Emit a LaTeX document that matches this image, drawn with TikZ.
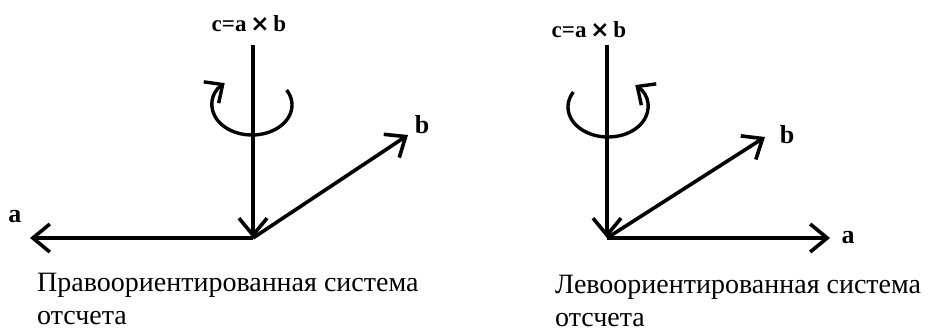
\documentclass[tikz,border=0pt]{standalone}
\usepackage{fontspec}
\setmainfont{Liberation Serif}
\newfontfamily\crossfont{DejaVu Sans}
\usetikzlibrary{arrows.meta,positioning}

\begin{document}
\begin{tikzpicture}[
  x=1pt,y=1pt,
  axis/.style ={line width=3.6pt,-{Straight Barb[length=17pt,width=28pt]}},
  turn/.style ={line width=3.4pt,-{Straight Barb[length=14pt,width=26pt]}},
  vlabel/.style={font=\fontsize{26}{26}\selectfont\bfseries,inner sep=0pt},
  prodlabel/.style={font=\fontsize{23}{23}\selectfont\bfseries,inner sep=0pt},
  caption/.style={font=\fontsize{28}{33}\selectfont,align=left,inner sep=0pt,
                  anchor=north west},
]
\useasboundingbox (0,0) rectangle (933,333);

%% =============================================
%% Right-handed system (left)
%% =============================================
\coordinate (o1)   at (253,95);
\coordinate (top1) at (253,288);
\coordinate (a1)   at (30,95);
\coordinate (b1)   at (408,198);
\coordinate (rot1) at (252,228);

\node[prodlabel] (c1lbl) at (249,309) {c=a\,{\crossfont ×}\,b};
\node[vlabel] (a1lbl) at (15,116)  {a};
\node[vlabel] (b1lbl) at (422,208) {b};

\draw[axis] (top1) -- (o1);
\draw[axis] (o1) -- (a1);
\draw[axis] (o1) -- (b1);

% rotation
\draw[turn] ([shift={(30:40pt and 30pt)}]rot1)
  arc[start angle=30,end angle=-227,x radius=40pt,y radius=30pt];

\node[caption] (cap1) at (37,60) {Правоориентированная система\\отсчета};

%% =============================================
%% Left-handed system (right)
%% =============================================
\coordinate (o2)   at (607,95);
\coordinate (top2) at (607,288);
\coordinate (a2)   at (830,95);
\coordinate (b2)   at (765,196);
\coordinate (rot2) at (608,226);

\node[prodlabel] (c2lbl) at (589,303) {c=a\,{\crossfont ×}\,b};
\node[vlabel] (a2lbl) at (848,95)  {a};
\node[vlabel] (b2lbl) at (787,198) {b};

\draw[axis] (top2) -- (o2);
\draw[axis] (o2) -- (a2);
\draw[axis] (o2) -- (b2);

% rotation
\draw[turn] ([shift={(150:40pt and 30pt)}]rot2)
  arc[start angle=150,end angle=407,x radius=40pt,y radius=30pt];

\node[caption] (cap2) at (555,58) {Левоориентированная система\\отсчета};

\end{tikzpicture}
\end{document}
